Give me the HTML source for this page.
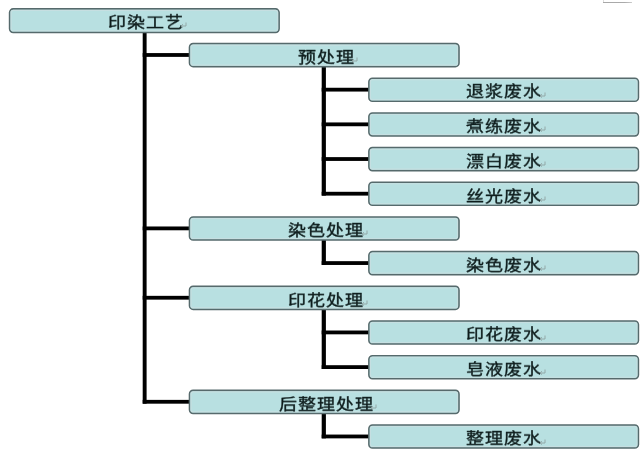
<!DOCTYPE html>
<html lang="zh-CN"><head><meta charset="utf-8"><style>
html,body{margin:0;padding:0;background:#fff;}
body{width:640px;height:456px;position:relative;overflow:hidden;font-family:"Liberation Serif",serif;}
svg.d{position:absolute;left:0;top:0;}
.t{position:absolute;font-size:18px;line-height:18px;letter-spacing:1px;color:#0e1c1c;white-space:nowrap;transform:scaleY(0.86);transform-origin:0 0;will-change:transform;-webkit-text-stroke:0.4px #0e1c1c;}
.m{position:absolute;}
.tr{position:absolute;left:603px;top:1.6px;width:29px;height:1.2px;background:linear-gradient(90deg,#a8a8a8 0%,#aaa 75%,#ccc 100%);}
.tr2{position:absolute;left:603px;top:0;width:1px;height:2px;background:#ddd;}
</style></head><body>
<svg class="d" width="640" height="456" viewBox="0 0 640 456">
<g fill="#000"><rect x="142.7" y="31.90" width="3.9" height="371.78"/><rect x="142.7" y="53.08" width="46.80" height="3.8"/><rect x="142.7" y="226.48" width="46.80" height="3.8"/><rect x="142.7" y="295.84" width="46.80" height="3.8"/><rect x="142.7" y="399.88" width="46.80" height="3.8"/><rect x="321.7" y="66.58" width="4.2" height="129.02"/><rect x="321.7" y="87.76" width="47.20" height="3.8"/><rect x="321.7" y="122.44" width="47.20" height="3.8"/><rect x="321.7" y="157.12" width="47.20" height="3.8"/><rect x="321.7" y="191.80" width="47.20" height="3.8"/><rect x="321.7" y="239.98" width="4.2" height="24.98"/><rect x="321.7" y="261.16" width="47.20" height="3.8"/><rect x="321.7" y="309.34" width="4.2" height="59.66"/><rect x="321.7" y="330.52" width="47.20" height="3.8"/><rect x="321.7" y="365.20" width="47.20" height="3.8"/><rect x="321.7" y="413.38" width="4.2" height="24.98"/><rect x="321.7" y="434.56" width="47.20" height="3.8"/></g>
<g fill="#b8e0e1" stroke="#566a6c" stroke-width="1.6"><rect x="9.6" y="8.90" width="269.5" height="23.5" rx="3.6"/><rect x="189.5" y="43.58" width="269.5" height="23.0" rx="3.6"/><rect x="368.9" y="78.26" width="269.5" height="23.0" rx="3.6"/><rect x="368.9" y="112.94" width="269.5" height="23.0" rx="3.6"/><rect x="368.9" y="147.62" width="269.5" height="23.0" rx="3.6"/><rect x="368.9" y="182.30" width="269.5" height="23.0" rx="3.6"/><rect x="189.5" y="216.98" width="269.5" height="23.0" rx="3.6"/><rect x="368.9" y="251.66" width="269.5" height="23.0" rx="3.6"/><rect x="189.5" y="286.34" width="269.5" height="23.0" rx="3.6"/><rect x="368.9" y="321.02" width="269.5" height="23.0" rx="3.6"/><rect x="368.9" y="355.70" width="269.5" height="23.0" rx="3.6"/><rect x="189.5" y="390.38" width="269.5" height="23.0" rx="3.6"/><rect x="368.9" y="425.06" width="269.5" height="23.0" rx="3.6"/></g>
<g fill="none" stroke="#c6dfe1" stroke-width="1.1"><rect x="11.10" y="10.40" width="266.50" height="20.50" rx="2.2"/><rect x="191.00" y="45.08" width="266.50" height="20.00" rx="2.2"/><rect x="370.40" y="79.76" width="266.50" height="20.00" rx="2.2"/><rect x="370.40" y="114.44" width="266.50" height="20.00" rx="2.2"/><rect x="370.40" y="149.12" width="266.50" height="20.00" rx="2.2"/><rect x="370.40" y="183.80" width="266.50" height="20.00" rx="2.2"/><rect x="191.00" y="218.48" width="266.50" height="20.00" rx="2.2"/><rect x="370.40" y="253.16" width="266.50" height="20.00" rx="2.2"/><rect x="191.00" y="287.84" width="266.50" height="20.00" rx="2.2"/><rect x="370.40" y="322.52" width="266.50" height="20.00" rx="2.2"/><rect x="370.40" y="357.20" width="266.50" height="20.00" rx="2.2"/><rect x="191.00" y="391.88" width="266.50" height="20.00" rx="2.2"/><rect x="370.40" y="426.56" width="266.50" height="20.00" rx="2.2"/></g>
</svg>
<span class="t" style="left:107.90px;top:15.10px">印染工艺</span><svg class="m" style="left:180.40px;top:22.40px" width="7" height="6" viewBox="0 0 7 6"><path d="M6 0.5V4H1.2M3 2.2L1 4L3 5.6" fill="none" stroke="#8fa3a3" stroke-width="0.9"/></svg><span class="t" style="left:297.80px;top:49.78px">预处理</span><svg class="m" style="left:351.30px;top:57.08px" width="7" height="6" viewBox="0 0 7 6"><path d="M6 0.5V4H1.2M3 2.2L1 4L3 5.6" fill="none" stroke="#8fa3a3" stroke-width="0.9"/></svg><span class="t" style="left:466.40px;top:84.46px">退浆废水</span><svg class="m" style="left:538.90px;top:91.76px" width="7" height="6" viewBox="0 0 7 6"><path d="M6 0.5V4H1.2M3 2.2L1 4L3 5.6" fill="none" stroke="#8fa3a3" stroke-width="0.9"/></svg><span class="t" style="left:466.40px;top:119.14px">煮练废水</span><svg class="m" style="left:538.90px;top:126.44px" width="7" height="6" viewBox="0 0 7 6"><path d="M6 0.5V4H1.2M3 2.2L1 4L3 5.6" fill="none" stroke="#8fa3a3" stroke-width="0.9"/></svg><span class="t" style="left:466.40px;top:153.82px">漂白废水</span><svg class="m" style="left:538.90px;top:161.12px" width="7" height="6" viewBox="0 0 7 6"><path d="M6 0.5V4H1.2M3 2.2L1 4L3 5.6" fill="none" stroke="#8fa3a3" stroke-width="0.9"/></svg><span class="t" style="left:466.40px;top:188.50px">丝光废水</span><svg class="m" style="left:538.90px;top:195.80px" width="7" height="6" viewBox="0 0 7 6"><path d="M6 0.5V4H1.2M3 2.2L1 4L3 5.6" fill="none" stroke="#8fa3a3" stroke-width="0.9"/></svg><span class="t" style="left:288.30px;top:223.18px">染色处理</span><svg class="m" style="left:360.80px;top:230.48px" width="7" height="6" viewBox="0 0 7 6"><path d="M6 0.5V4H1.2M3 2.2L1 4L3 5.6" fill="none" stroke="#8fa3a3" stroke-width="0.9"/></svg><span class="t" style="left:466.40px;top:257.86px">染色废水</span><svg class="m" style="left:538.90px;top:265.16px" width="7" height="6" viewBox="0 0 7 6"><path d="M6 0.5V4H1.2M3 2.2L1 4L3 5.6" fill="none" stroke="#8fa3a3" stroke-width="0.9"/></svg><span class="t" style="left:288.30px;top:292.54px">印花处理</span><svg class="m" style="left:360.80px;top:299.84px" width="7" height="6" viewBox="0 0 7 6"><path d="M6 0.5V4H1.2M3 2.2L1 4L3 5.6" fill="none" stroke="#8fa3a3" stroke-width="0.9"/></svg><span class="t" style="left:466.40px;top:327.22px">印花废水</span><svg class="m" style="left:538.90px;top:334.52px" width="7" height="6" viewBox="0 0 7 6"><path d="M6 0.5V4H1.2M3 2.2L1 4L3 5.6" fill="none" stroke="#8fa3a3" stroke-width="0.9"/></svg><span class="t" style="left:466.40px;top:361.90px">皂液废水</span><svg class="m" style="left:538.90px;top:369.20px" width="7" height="6" viewBox="0 0 7 6"><path d="M6 0.5V4H1.2M3 2.2L1 4L3 5.6" fill="none" stroke="#8fa3a3" stroke-width="0.9"/></svg><span class="t" style="left:278.80px;top:396.58px">后整理处理</span><svg class="m" style="left:370.30px;top:403.88px" width="7" height="6" viewBox="0 0 7 6"><path d="M6 0.5V4H1.2M3 2.2L1 4L3 5.6" fill="none" stroke="#8fa3a3" stroke-width="0.9"/></svg><span class="t" style="left:466.40px;top:431.26px">整理废水</span><svg class="m" style="left:538.90px;top:438.56px" width="7" height="6" viewBox="0 0 7 6"><path d="M6 0.5V4H1.2M3 2.2L1 4L3 5.6" fill="none" stroke="#8fa3a3" stroke-width="0.9"/></svg>
<div class="tr"></div><div class="tr2"></div>
</body></html>
